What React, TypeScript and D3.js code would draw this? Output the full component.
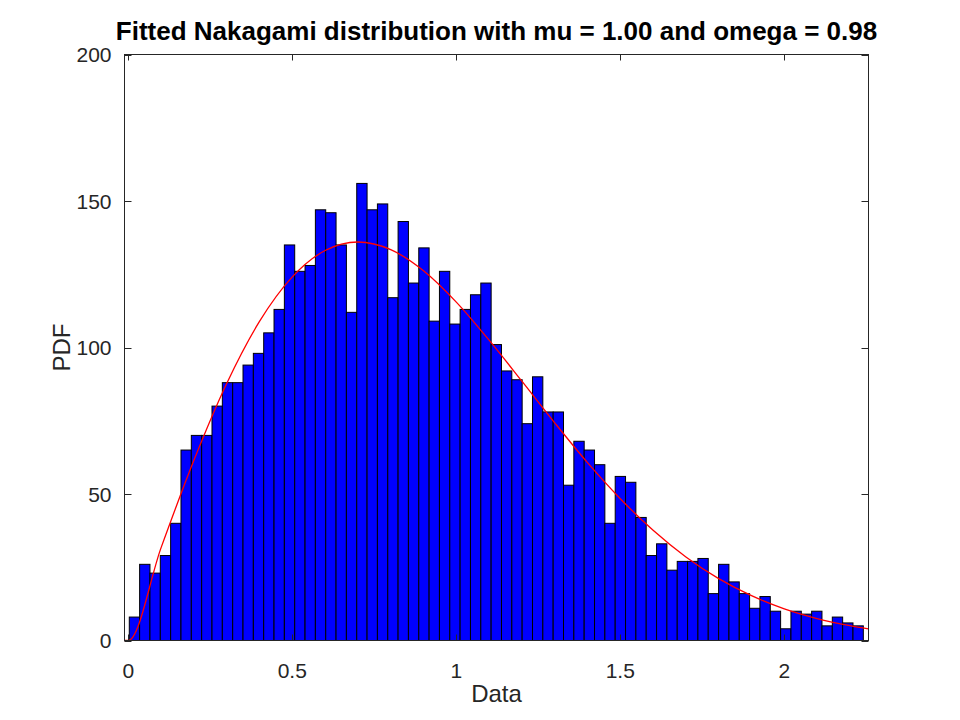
import React, { useRef, useEffect } from 'react';
import * as d3 from 'd3';

// histogram counts (71 bins)
const counts = [
    8, 26, 23, 29, 40, 65, 70, 70, 80, 88, 88, 94, 98, 105, 113, 135, 126, 128, 147, 146,
    135, 112, 156, 147, 149, 117, 143, 122, 134, 109, 126, 108, 113, 118, 122, 101, 92, 89, 74, 90,
    78, 78, 53, 68, 65, 60, 40, 56, 54, 42, 29, 33, 24, 27, 27, 28, 16, 26, 20, 16,
    11, 15, 10, 4, 10, 9, 10, 5, 8, 6, 5,
];
const binStart = 0.003;
const binWidth = 0.03152;

// fitted pdf curve, sampled from the red line
const curveX = [-0.0116, 0, 0.1, 0.2, 0.3, 0.4, 0.5, 0.6, 0.7, 0.8, 0.9, 1.0, 1.1, 1.2, 1.3, 1.4, 1.5, 1.6, 1.7, 1.8, 1.9, 2.0, 2.1, 2.2, 2.2567];
const curveY = [0, 0, 31.7, 61.5, 87.7, 108.9, 124.1, 133.1, 136.0, 133.4, 126.2, 115.5, 102.5, 88.5, 74.3, 60.7, 48.4, 37.6, 28.5, 21.1, 15.3, 10.8, 7.5, 5.1, 4.0];

const xTicks = [0, 0.5, 1, 1.5, 2];
const xTickLabels = ['0', '0.5', '1', '1.5', '2'];
const yTicks = [0, 50, 100, 150, 200];

const titleText = 'Fitted Nakagami distribution with mu = 1.00 and omega = 0.98';

const width = 960;
const height = 720;

const App: React.FC = () => {
    const svgRef = useRef<SVGSVGElement | null>(null);

    useEffect(() => {
        if (!svgRef.current) return;

        const left = 124.5, right = 868.5, top = 54.5, bottom = 640.5;
        const axisColor = '#262626';
        const font = '"Liberation Sans", Arial, Helvetica, sans-serif';

        const svg = d3.select(svgRef.current)
            .attr('width', width)
            .attr('height', height);
        svg.selectAll('*').remove();

        svg.append('rect')
            .attr('width', width)
            .attr('height', height)
            .attr('fill', 'white');

        const x = d3.scaleLinear()
            .domain([-0.0116, 2.2567])
            .range([left, right]);

        const y = d3.scaleLinear()
            .domain([0, 200])
            .range([bottom, top]);

        // bars
        svg.append('g')
            .selectAll('rect')
            .data(counts)
            .enter().append('rect')
            .attr('x', (_, i) => x(binStart + i * binWidth))
            .attr('y', d => y(d))
            .attr('width', (_, i) => x(binStart + (i + 1) * binWidth) - x(binStart + i * binWidth))
            .attr('height', d => y(0) - y(d))
            .attr('fill', '#0000ff')
            .attr('stroke', '#000000')
            .attr('stroke-width', 1);

        // fitted curve
        const line = d3.line<number>()
            .x((_, i) => x(curveX[i]))
            .y(d => y(d))
            .curve(d3.curveMonotoneX);

        svg.append('path')
            .datum(curveY)
            .attr('d', line)
            .attr('fill', 'none')
            .attr('stroke', '#ff0000')
            .attr('stroke-width', 1.3);

        // axes box
        svg.append('rect')
            .attr('x', left)
            .attr('y', top)
            .attr('width', right - left)
            .attr('height', bottom - top)
            .attr('fill', 'none')
            .attr('stroke', axisColor)
            .attr('stroke-width', 1);

        // inward ticks on all four sides
        const ticks = svg.append('g').attr('stroke', axisColor).attr('stroke-width', 1);
        xTicks.forEach(t => {
            const px = Math.round(x(t)) + 0.5;
            ticks.append('line').attr('x1', px).attr('x2', px).attr('y1', bottom).attr('y2', bottom - 6);
            ticks.append('line').attr('x1', px).attr('x2', px).attr('y1', top).attr('y2', top + 6);
        });
        yTicks.forEach(t => {
            const py = Math.round(y(t)) + 0.5;
            ticks.append('line').attr('x1', left).attr('x2', left + 7).attr('y1', py).attr('y2', py);
            ticks.append('line').attr('x1', right).attr('x2', right - 7).attr('y1', py).attr('y2', py);
        });

        // tick labels
        svg.append('g')
            .selectAll('text')
            .data(xTicks)
            .enter().append('text')
            .attr('x', d => x(d))
            .attr('y', bottom + 37)
            .attr('text-anchor', 'middle')
            .attr('font-family', font)
            .attr('font-size', 21)
            .attr('fill', axisColor)
            .text((_, i) => xTickLabels[i]);

        svg.append('g')
            .selectAll('text')
            .data(yTicks)
            .enter().append('text')
            .attr('x', left - 13)
            .attr('y', d => y(d) + 7.5)
            .attr('text-anchor', 'end')
            .attr('font-family', font)
            .attr('font-size', 21)
            .attr('fill', axisColor)
            .text(d => d.toString());

        // axis labels
        svg.append('text')
            .attr('x', (left + right) / 2)
            .attr('y', 701.5)
            .attr('text-anchor', 'middle')
            .attr('font-family', font)
            .attr('font-size', 24)
            .attr('fill', axisColor)
            .text('Data');

        svg.append('text')
            .attr('transform', `translate(70, ${(top + bottom) / 2}) rotate(-90)`)
            .attr('text-anchor', 'middle')
            .attr('font-family', font)
            .attr('font-size', 24)
            .attr('fill', axisColor)
            .text('PDF');

        // title
        svg.append('text')
            .attr('x', (left + right) / 2)
            .attr('y', 40)
            .attr('text-anchor', 'middle')
            .attr('font-family', font)
            .attr('font-size', 26)
            .attr('font-weight', 'bold')
            .attr('fill', '#000000')
            .text(titleText);
    }, []);

    return <svg ref={svgRef} style={{ position: 'absolute', left: 0, top: 0, display: 'block' }}></svg>;
};

export default App;
